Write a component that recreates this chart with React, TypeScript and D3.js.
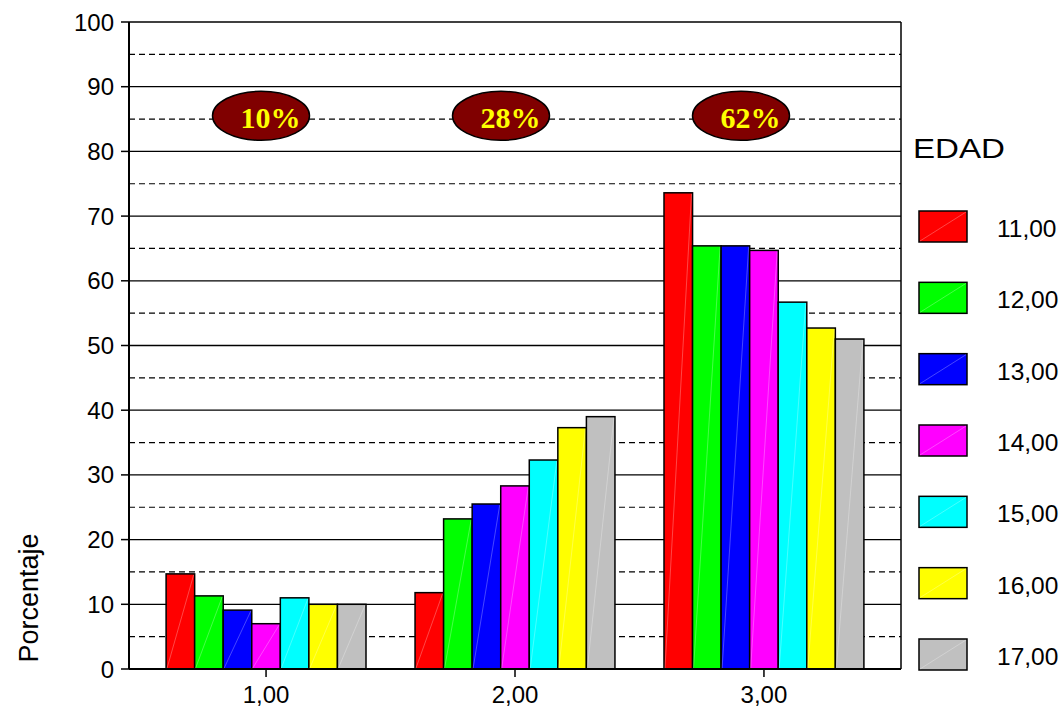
import * as d3 from "d3";

const categories = ["1,00", "2,00", "3,00"];
const ages = ["11,00", "12,00", "13,00", "14,00", "15,00", "16,00", "17,00"];
const colors = ["#ff0000", "#00ff00", "#0000ff", "#ff00ff", "#00ffff", "#ffff00", "#c0c0c0"];

// percentage per age (series) in each category
const age11 = [14.7, 11.8, 73.6];
const age12 = [11.3, 23.2, 65.4];
const age13 = [9.1, 25.5, 65.4];
const age14 = [7.0, 28.3, 64.7];
const age15 = [11.0, 32.3, 56.7];
const age16 = [10.0, 37.3, 52.7];
const age17 = [10.0, 39.0, 51.0];
const series = [age11, age12, age13, age14, age15, age16, age17];

const shareLabels = ["10%", "28%", "62%"];
const shareLevel = 85.5;

const yMajor = [0, 10, 20, 30, 40, 50, 60, 70, 80, 90, 100];
const yMinor = [5, 15, 25, 35, 45, 55, 65, 75, 85, 95];

const W = 1064;
const H = 710;
const left = 129;
const right = 901;
const top = 22;
const bottom = 669;

const sans = "'Liberation Sans', Arial, sans-serif";
const serif = "'Liberation Serif', 'DejaVu Serif', serif";

export default function App() {
  const y = d3.scaleLinear().domain([0, 100]).range([bottom, top]);
  const x = d3.scaleBand().domain(categories).range([left, right]).paddingInner(0.197).paddingOuter(0.149);
  const xs = d3.scaleBand().domain(ages).range([0, x.bandwidth()]);
  const annX = d3.scaleLinear().domain([0, categories.length - 1]).range([261, 741]);
  const legY = d3.scalePoint().domain(ages).range([211, 639]);

  return (
    <svg width={W} height={H} style={{ position: "absolute", left: 0, top: 0, background: "#fff" }}>
      {/* grid */}
      {yMinor.map((v) => (
        <line key={"mi" + v} x1={left} x2={right} y1={y(v)} y2={y(v)} stroke="#000" strokeWidth={1.2} strokeDasharray="6,4" />
      ))}
      {yMajor.map((v) => (
        <line key={"ma" + v} x1={left} x2={right} y1={y(v)} y2={y(v)} stroke="#000" strokeWidth={1.3} />
      ))}
      <line x1={right} x2={right} y1={top} y2={bottom} stroke="#000" strokeWidth={1.5} />

      {/* bars */}
      {categories.map((c, ci) => (
        <g key={c} transform={`translate(${x(c)},0)`}>
          {series.map((s, si) => {
            const bx = xs(ages[si])!;
            const bw = xs.bandwidth();
            const by = y(s[ci]);
            return (
              <g key={si}>
                <rect x={bx} y={by} width={bw} height={bottom - by} fill={colors[si]} stroke="#000" strokeWidth={1.5} />
                <line x1={bx + 1} y1={bottom - 1} x2={bx + bw - 1} y2={by + 1} stroke="#fff" strokeOpacity={0.35} strokeWidth={0.8} />
              </g>
            );
          })}
        </g>
      ))}

      {/* axes */}
      <line x1={left} x2={left} y1={top} y2={bottom} stroke="#000" strokeWidth={2} />
      <line x1={left} x2={right} y1={bottom} y2={bottom} stroke="#000" strokeWidth={2} />
      {yMajor.map((v) => (
        <g key={"t" + v}>
          <line x1={left - 8} x2={left} y1={y(v)} y2={y(v)} stroke="#000" strokeWidth={1.5} />
          <text x={114} y={y(v) + 8.5} textAnchor="end" fontFamily={sans} fontSize={24} fill="#000">
            {v}
          </text>
        </g>
      ))}
      {categories.map((c) => (
        <g key={"xt" + c}>
          <line x1={x(c)! + x.bandwidth() / 2} x2={x(c)! + x.bandwidth() / 2} y1={bottom} y2={bottom + 8} stroke="#000" strokeWidth={1.5} />
          <text x={x(c)! + x.bandwidth() / 2} y={703} textAnchor="middle" fontFamily={sans} fontSize={24} fill="#000">
            {c}
          </text>
        </g>
      ))}
      <text transform={`translate(38,598) rotate(-90)`} textAnchor="middle" fontFamily={sans} fontSize={27} fill="#000">
        Porcentaje
      </text>

      {/* share annotations */}
      {shareLabels.map((t, i) => (
        <g key={t}>
          <ellipse cx={annX(i)} cy={y(shareLevel)} rx={48.5} ry={24.5} fill="#800000" stroke="#000" strokeWidth={1.5} />
          <text x={annX(i) + 9.5} y={y(shareLevel) + 12.5} textAnchor="middle" fontFamily={serif} fontWeight="bold" fontSize={30} fill="#ffff00">
            {t}
          </text>
        </g>
      ))}

      {/* legend */}
      <text x={913} y={158} fontFamily={sans} fontSize={28} fill="#000" textLength={92} lengthAdjust="spacingAndGlyphs">
        EDAD
      </text>
      {ages.map((a, i) => (
        <g key={a} transform={`translate(919,${legY(a)})`}>
          <rect x={0} y={0} width={48} height={31} fill={colors[i]} stroke="#000" strokeWidth={1.5} />
          <line x1={1} y1={30} x2={47} y2={1} stroke="#fff" strokeOpacity={0.35} strokeWidth={0.8} />
          <text x={78} y={26} fontFamily={sans} fontSize={24.5} fill="#000">
            {a}
          </text>
        </g>
      ))}
    </svg>
  );
}
